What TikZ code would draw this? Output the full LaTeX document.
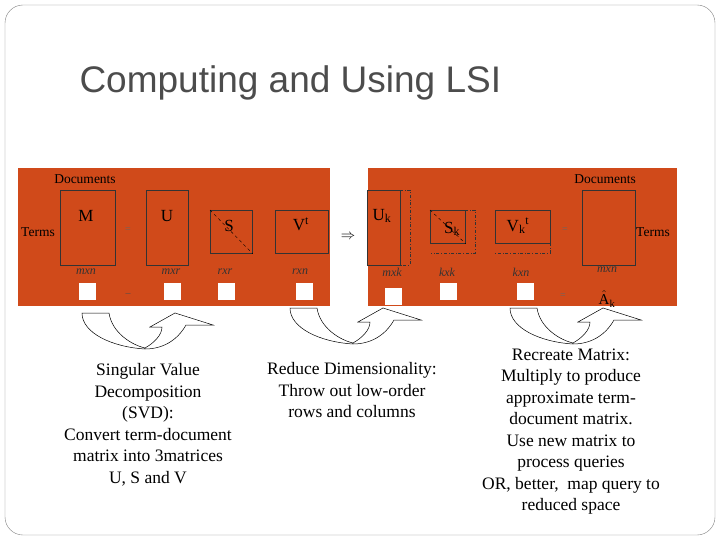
\documentclass[tikz,border=0pt]{standalone}
\usepackage{fontspec}
\setmainfont{Liberation Serif}
\newfontfamily\titlefont{Liberation Sans}
\definecolor{rust}{HTML}{D04A1A}
\tikzset{
  mat/.style={draw=black!80, thick, anchor=north west, inner sep=0pt},
  lbl/.style={font=\fontsize{12}{13}\selectfont\itshape, text=black!80},
  wsq/.style={fill=white, minimum size=17pt, inner sep=0pt},
  note/.style={align=center, font=\fontsize{17.5}{21.5}\selectfont},
  turn/.pic={\draw[fill=white, line width=0.5pt] (0,0) -- (27,0) .. controls (30,20) and (50,32) .. (63,35)
     .. controls (72,30) and (80,22) .. (80,14) -- (68,14) -- (93,0) -- (131,12) -- (104,12)
     .. controls (95,28) and (80,36) .. (63,36) .. controls (30,34) and (0,20) .. (0,0) -- cycle;}
}
\begin{document}
\begin{tikzpicture}[x=1pt,y=-1pt]
\useasboundingbox (0,0) rectangle (720,540);
\draw[black!50, rounded corners=18pt] (5,5) rectangle (715,535);
\node[anchor=west, font=\titlefont\fontsize{37}{40}\selectfont, text=black!70] (title) at (76,83) {Computing and Using LSI};

% panels
\fill[rust] (18,168) rectangle (330,306);
\fill[rust] (368,168) rectangle (677,306);

% SVD
\node[mat, minimum width=55pt, minimum height=75pt] (M) at (60,190) {};
\node[mat, minimum width=42pt, minimum height=75pt] (U) at (146,190) {};
\node[mat, minimum width=42pt, minimum height=43pt] (S) at (210,210) {};
\node[mat, minimum width=53pt, minimum height=43pt] (V) at (275,210) {};
\draw[dashed] (S.north west) -- (S.south east);
\node[font=\fontsize{17}{18}\selectfont] at (86,216) {M};
\node[font=\fontsize{17}{18}\selectfont] at (167,216) {U};
\node[font=\fontsize{17}{18}\selectfont] at (229,226) {S};
\node[font=\fontsize{17}{18}\selectfont] at (301,224) {V\textsuperscript{t}};
\node[font=\fontsize{13.5}{14}\selectfont] (doc1) at (85,179) {Documents};
\node[font=\fontsize{13.5}{14}\selectfont] (terms1) at (38,232) {Terms};
\node[text=black!60] at (128,230) {=};
\node[lbl] at (86,272) {mxn};
\node[lbl] at (171,272) {mxr};
\node[lbl] at (225,272) {rxr};
\node[lbl] at (300,272) {rxn};
\node[wsq] (w1) at (87,291) {};
\node[wsq] (w2) at (172,291) {};
\node[wsq] (w3) at (226,291) {};
\node[wsq] (w4) at (304,291) {};
\node[text=black!70] at (128,295) {--};
\node[font=\fontsize{14}{15}\selectfont] (impl) at (348,237) {$\Rightarrow$};

% truncated
\node[mat, minimum width=33pt, minimum height=75pt] (Uk) at (367,190) {};
\node[mat, minimum width=35pt, minimum height=33pt] (Sk) at (430,210) {};
\node[mat, minimum width=55pt, minimum height=33pt] (Vk) at (495,210) {};
\node[mat, minimum width=53pt, minimum height=75pt] (A) at (582,190) {};
\draw[dashed] (Sk.north west) -- (Sk.south east);
\draw[dash dot, black!80] (400,190) -- (410,190) -- (410,265) -- (400,265);
\draw[dash dot, black!80] (465,210) -- (475,210) -- (475,253) -- (431,253);
\draw[dash dot, black!80] (550,243) -- (550,253) -- (495,253);
\node[font=\fontsize{17}{18}\selectfont] at (382,216) {U\textsubscript{k}};
\node[font=\fontsize{17}{18}\selectfont] at (452,229) {S\textsubscript{k}};
\node[font=\fontsize{17}{18}\selectfont] at (518,226) {V\textsubscript{k}\textsuperscript{t}};
\node[font=\fontsize{13.5}{14}\selectfont] (doc2) at (605,179) {Documents};
\node[font=\fontsize{13.5}{14}\selectfont] (terms2) at (653,232) {Terms};
\node[text=black!60] at (565,230) {=};
\node[lbl] at (392,272) {mxk};
\node[lbl] at (447,272) {kxk};
\node[lbl] at (521,272) {kxn};
\node[lbl] at (607,270) {mxn};
\node[wsq] (w5) at (393,296) {};
\node[wsq] (w6) at (448,291) {};
\node[wsq] (w7) at (525,291) {};
\node[text=black!60] at (563,296) {=};
\node[font=\fontsize{15}{16}\selectfont, inner sep=0pt] (Ak) at (607,299) {$\hat{\mathrm{A}}_{\mathrm{k}}$};

% turning arrows
\pic at (82,313) {turn};
\pic at (290,308) {turn};
\pic at (510,308) {turn};

% notes
\node[note, anchor=north] (n1) at (148,360) {Singular Value\\Decomposition\\(SVD):\\Convert term-document\\matrix into 3matrices\\U, S and V};
\node[note, anchor=north] (n2) at (352,359) {Reduce Dimensionality:\\Throw out low-order\\rows and columns};
\node[note, anchor=north] (n3) at (571,345) {Recreate Matrix:\\Multiply to produce\\approximate term-\\document matrix.\\Use new matrix to\\process queries\\OR, better,\ \ map query to\\reduced space};
\end{tikzpicture}
\end{document}
